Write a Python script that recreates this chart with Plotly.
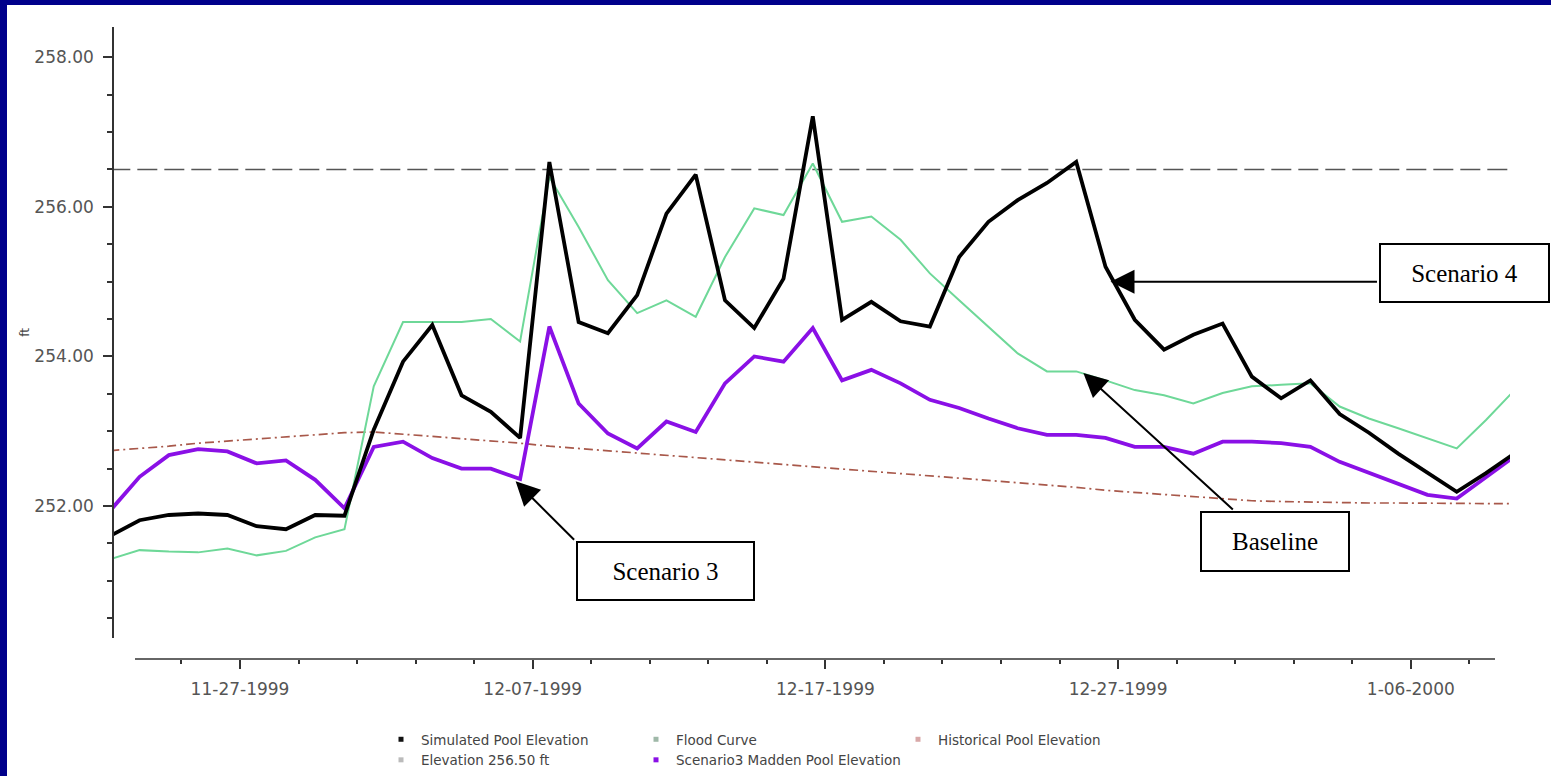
import pandas as pd
import plotly.graph_objects as go

# ---------------- data ----------------
start_date = "1999-11-22 13:40"
n_days = 49
dates = pd.date_range(start_date, periods=n_days, freq="D")

simulated_pool = [
    251.60, 251.81, 251.88, 251.90, 251.88, 251.73, 251.69, 251.88, 251.87, 253.02,
    253.93, 254.42, 253.48, 253.26, 252.91, 256.60, 254.46, 254.31, 254.82, 255.91,
    256.43, 254.75, 254.38, 255.04, 257.21, 254.49, 254.73, 254.47, 254.40, 255.33,
    255.80, 256.09, 256.32, 256.60, 255.20, 254.49, 254.09, 254.29, 254.44, 253.73,
    253.44, 253.68, 253.23, 252.98, 252.70, 252.45, 252.19, 252.44, 252.71,
]
flood_curve = [
    251.29, 251.41, 251.39, 251.38, 251.43, 251.34, 251.40, 251.58, 251.69, 253.60,
    254.46, 254.46, 254.46, 254.50, 254.20, 256.40, 255.73, 255.02, 254.58, 254.75,
    254.53, 255.33, 255.98, 255.89, 256.58, 255.80, 255.87, 255.56, 255.11, 254.75,
    254.40, 254.04, 253.80, 253.80, 253.68, 253.55, 253.48, 253.37, 253.51, 253.60,
    253.62, 253.64, 253.33, 253.17, 253.04, 252.91, 252.77, 253.15, 253.56,
]
historical_pool = [
    252.74, 252.77, 252.80, 252.84, 252.87, 252.90, 252.92, 252.95, 252.98, 252.99,
    252.96, 252.93, 252.90, 252.87, 252.84, 252.80, 252.77, 252.74, 252.71, 252.68,
    252.65, 252.62, 252.59, 252.56, 252.53, 252.50, 252.47, 252.44, 252.41, 252.38,
    252.34, 252.31, 252.28, 252.25, 252.21, 252.18, 252.15, 252.12, 252.09, 252.07,
    252.06, 252.05, 252.05, 252.04, 252.04, 252.04, 252.03, 252.03, 252.03,
]
scenario3_madden = [
    251.94, 252.39, 252.68, 252.76, 252.73, 252.57, 252.61, 252.35, 251.97, 252.79,
    252.86, 252.64, 252.50, 252.50, 252.36, 254.40, 253.37, 252.97, 252.77, 253.13,
    252.99, 253.64, 254.00, 253.93, 254.38, 253.68, 253.82, 253.64, 253.42, 253.31,
    253.17, 253.04, 252.95, 252.95, 252.91, 252.79, 252.79, 252.70, 252.86, 252.86,
    252.84, 252.79, 252.59, 252.44, 252.30, 252.15, 252.10, 252.39, 252.67,
]
elevation_ref = 256.50

series_names = [
    "Simulated Pool Elevation",
    "Flood Curve",
    "Historical Pool Elevation",
    "Elevation 256.50 ft",
    "Scenario3 Madden Pool Elevation",
]
y_tick_values = [252, 254, 256, 258]
y_minor_values = [250.5, 251.0, 251.5, 252.5, 253.0, 253.5, 254.5, 255.0, 255.5,
                  256.5, 257.0, 257.5]
x_tick_start = "1999-11-27"
x_minor_ticks = pd.date_range("1999-11-25", "2000-01-08", freq="2D")

# ---------------- styling / layout ----------------
W, H = 1551, 776
L, R, T, B = 114, 41, 27, 117
PW, PH = W - L - R, H - T - B


def paper_x(px):
    return (px - L) / PW


def paper_y(py):
    return (H - B - py) / PH


BLACK = "#000000"
GREEN = "#6ED898"
HIST = "#A8584A"
REFC = "#555555"
PURPLE = "#8A10E6"
AXC = "#333333"
TXT = "#555555"
FONT = "DejaVu Sans"
SERIF = "Liberation Serif"

fig = go.Figure()

fig.add_trace(go.Scatter(x=[dates[0], dates[-1]], y=[elevation_ref, elevation_ref], mode="lines",
                         line=dict(color=REFC, width=1.5, dash="20px,7px"), showlegend=False))
fig.add_trace(go.Scatter(x=dates, y=historical_pool, mode="lines",
                         line=dict(color=HIST, width=1.7, dash="9px,4px,2px,4px"), showlegend=False))
fig.add_trace(go.Scatter(x=dates, y=flood_curve, mode="lines",
                         line=dict(color=GREEN, width=2), showlegend=False))
fig.add_trace(go.Scatter(x=dates, y=scenario3_madden, mode="lines",
                         line=dict(color=PURPLE, width=3.8), showlegend=False))
fig.add_trace(go.Scatter(x=dates, y=simulated_pool, mode="lines",
                         line=dict(color=BLACK, width=3.8), showlegend=False))

# legend proxies (small square bullets like the original)
legend_specs = [
    (series_names[0], "#111111", "legend"),
    (series_names[3], "#BBBBBB", "legend"),
    (series_names[1], "#9FB8A8", "legend2"),
    (series_names[4], PURPLE, "legend2"),
    (series_names[2], "#D8A8A8", "legend3"),
]
for name, col, lg in legend_specs:
    fig.add_trace(go.Scatter(x=[None], y=[None], mode="markers", name=name,
                             marker=dict(symbol="square", size=5, color=col),
                             legend=lg, showlegend=True))

xr0 = pd.Timestamp("1999-11-27") + pd.Timedelta(days=(L - 240) / 29.27)
xr1 = pd.Timestamp("1999-11-27") + pd.Timedelta(days=(L + PW - 240) / 29.27)
y_dom0 = (H - B - 638) / PH

legend_common = dict(xanchor="left", yanchor="top", orientation="v",
                     bgcolor="rgba(0,0,0,0)", tracegroupgap=0, itemwidth=30,
                     font=dict(family=FONT, size=13.5, color="#444444"))

fig.update_layout(
    width=W, height=H,
    margin=dict(l=L, r=R, t=T, b=B, pad=0, autoexpand=False),
    paper_bgcolor="#00008B",
    plot_bgcolor="white",
    font=dict(family=FONT, color=TXT),
    xaxis=dict(
        range=[xr0, xr1], type="date", anchor="free", position=0,
        showline=False, showgrid=False, zeroline=False,
        tick0=x_tick_start, dtick=10 * 86400000, tickformat="%-m-%d-%Y",
        ticks="outside", ticklen=9, tickwidth=1.5, tickcolor=AXC,
        tickfont=dict(family=FONT, size=17, color=TXT), ticklabelstandoff=6,
        minor=dict(tickmode="array", tickvals=list(x_minor_ticks), ticks="outside",
                   ticklen=4, tickwidth=1.5, tickcolor=AXC, showgrid=False),
    ),
    yaxis=dict(
        domain=[y_dom0, 1], range=[250.235, 258.405],
        showline=True, linecolor=AXC, linewidth=1.5, showgrid=False, zeroline=False,
        tickmode="array", tickvals=y_tick_values, tickformat=".2f",
        ticks="outside", ticklen=9, tickwidth=1.5, tickcolor=AXC,
        tickfont=dict(family=FONT, size=17, color=TXT), ticklabelstandoff=6,
        minor=dict(tickmode="array", tickvals=y_minor_values, ticks="outside", ticklen=5,
                   tickwidth=1.5, tickcolor=AXC, showgrid=False),
        title=dict(text="ft", font=dict(family=FONT, size=12, color="#444444"), standoff=2),
    ),
    legend=dict(x=paper_x(381), y=paper_y(724), **legend_common),
    legend2=dict(x=paper_x(636), y=paper_y(724), **legend_common),
    legend3=dict(x=paper_x(898), y=paper_y(724), **legend_common),
)

# white panel inside navy frame, and shortened x axis line
fig.add_shape(type="rect", xref="paper", yref="paper",
              x0=paper_x(7), x1=paper_x(W + 20), y0=paper_y(H + 20), y1=paper_y(5),
              fillcolor="white", line=dict(width=0), layer="below")
fig.add_shape(type="line", xref="paper", yref="paper",
              x0=paper_x(135), x1=paper_x(1495), y0=0, y1=0,
              line=dict(color=AXC, width=1.5))

# arrows (tip in data coords, tail offset in pixels)
arrows = [
    ("1999-12-06 10:00", 252.33, 60, 60),
    ("1999-12-25 19:30", 253.78, 151, 138),
    ("1999-12-26 17:45", 255.00, 268, 0),
]
for ax_date, ay_val, dx, dy in arrows:
    fig.add_annotation(text="", x=ax_date, y=ay_val, xref="x", yref="y",
                       ax=dx, ay=dy, axref="pixel", ayref="pixel",
                       showarrow=True, arrowhead=2, arrowsize=2.4, arrowwidth=2,
                       arrowcolor="black", standoff=0)

# text boxes
boxes = [
    ("Scenario 3", 665.5, 571, 175, 56),
    ("Baseline", 1275, 541.3, 146, 57),
    ("Scenario 4", 1464.5, 273.3, 167, 56),
]
for txt, cx, cy, bw, bh in boxes:
    fig.add_annotation(text=txt, xref="paper", yref="paper", x=paper_x(cx), y=paper_y(cy),
                       xanchor="center", yanchor="middle",
                       showarrow=False, width=bw, height=bh, align="center", valign="middle",
                       bordercolor="black", borderwidth=2, borderpad=0, bgcolor="white",
                       font=dict(family=SERIF, size=25, color="black"))

fig.write_html("out.html", config={"displayModeBar": False},
               post_script="document.body.style.margin='0px';document.body.style.overflow='hidden';")
